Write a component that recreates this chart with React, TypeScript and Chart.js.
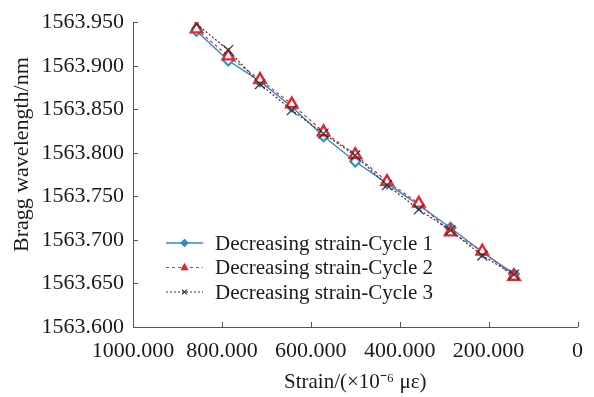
import React, { useEffect, useRef } from "react";
import { Chart, registerables } from "chart.js";

Chart.register(...registerables);

// ---- data ----
const strain = [857.1, 785.7, 714.3, 642.9, 571.4, 500.0, 428.6, 357.1, 285.7, 214.3, 142.9];
const cycle1 = [1563.940, 1563.906, 1563.882, 1563.853, 1563.819, 1563.790, 1563.765, 1563.740, 1563.714, 1563.686, 1563.661];
const cycle2 = [1563.942, 1563.911, 1563.884, 1563.856, 1563.824, 1563.798, 1563.767, 1563.742, 1563.709, 1563.687, 1563.658];
const cycle3 = [1563.948, 1563.918, 1563.879, 1563.849, 1563.822, 1563.797, 1563.763, 1563.735, 1563.711, 1563.682, 1563.660];
const seriesLabels = [
  "Decreasing strain-Cycle 1",
  "Decreasing strain-Cycle 2",
  "Decreasing strain-Cycle 3",
];
const xMin = 0;
const xMax = 1000;
const xStep = 200;
const yMin = 1563.6;
const yMax = 1563.95;
const yStep = 0.05;
const xTitle = "Strain/(\u00d710\u207b\u2076 \u03bc\u03b5)";
const yTitle = "Bragg wavelength/nm";

const FONT = "'Liberation Serif', 'Times New Roman', serif";
const TEXT = "#1a1a1a";
const AXIS = "#555555";
const BLUE = "#2f8cc6";
const RED = "#e5262d";
const BLACK = "#333333";

function drawMarker(ctx: CanvasRenderingContext2D, style: string, x: number, y: number, r: number, color: string) {
  ctx.save();
  ctx.strokeStyle = color;
  ctx.fillStyle = color;
  ctx.setLineDash([]);
  ctx.lineWidth = 1.2;
  ctx.beginPath();
  if (style === "rectRot") {
    ctx.moveTo(x, y - r);
    ctx.lineTo(x + r, y);
    ctx.lineTo(x, y + r);
    ctx.lineTo(x - r, y);
    ctx.closePath();
    ctx.fill();
    ctx.stroke();
  } else if (style === "triangle") {
    ctx.moveTo(x, y - r);
    ctx.lineTo(x + r * 0.9, y + r * 0.6);
    ctx.lineTo(x - r * 0.9, y + r * 0.6);
    ctx.closePath();
    ctx.fill();
    ctx.stroke();
  } else {
    ctx.moveTo(x - r * 0.7, y - r * 0.7);
    ctx.lineTo(x + r * 0.7, y + r * 0.7);
    ctx.moveTo(x + r * 0.7, y - r * 0.7);
    ctx.lineTo(x - r * 0.7, y + r * 0.7);
    ctx.stroke();
  }
  ctx.restore();
}

export default function App() {
  const ref = useRef<HTMLCanvasElement>(null);

  useEffect(() => {
    if (!ref.current) return;

    const inwardTicks = {
      id: "inwardTicks",
      afterDraw(chart: any) {
        const ctx = chart.ctx as CanvasRenderingContext2D;
        const { left, bottom } = chart.chartArea;
        const xs = chart.scales.x;
        const ys = chart.scales.y;
        ctx.save();
        ctx.strokeStyle = AXIS;
        ctx.lineWidth = 1;
        ctx.beginPath();
        xs.ticks.forEach((t: any) => {
          const px = Math.round(xs.getPixelForValue(t.value)) + 0.5;
          ctx.moveTo(px, bottom);
          ctx.lineTo(px, bottom - 5);
        });
        ys.ticks.forEach((t: any) => {
          const py = Math.round(ys.getPixelForValue(t.value)) + 0.5;
          ctx.moveTo(left, py);
          ctx.lineTo(left + 5, py);
        });
        ctx.stroke();
        ctx.restore();
      },
    };

    const yAxisTitle = {
      id: "yAxisTitle",
      afterDraw(chart: any) {
        const ctx = chart.ctx as CanvasRenderingContext2D;
        const { top, bottom } = chart.chartArea;
        ctx.save();
        ctx.translate(22, (top + bottom) / 2 - 20);
        ctx.rotate(-Math.PI / 2);
        ctx.fillStyle = TEXT;
        ctx.font = `22px ${FONT}`;
        ctx.textAlign = "center";
        ctx.textBaseline = "middle";
        ctx.fillText(yTitle, 0, 0);
        ctx.restore();
      },
    };

    const innerLegend = {
      id: "innerLegend",
      afterDraw(chart: any) {
        const ctx = chart.ctx as CanvasRenderingContext2D;
        const { left, bottom } = chart.chartArea;
        const x0 = left + 33;
        const x1 = left + 70;
        const tx = left + 82;
        const rowH = 24.5;
        const y0 = bottom - 84;
        chart.data.datasets.forEach((ds: any, i: number) => {
          const y = y0 + i * rowH;
          ctx.save();
          ctx.strokeStyle = ds.borderColor;
          ctx.lineWidth = ds.borderWidth;
          ctx.setLineDash(ds.borderDash || []);
          ctx.beginPath();
          ctx.moveTo(x0, y);
          ctx.lineTo(x1, y);
          ctx.stroke();
          ctx.restore();
          drawMarker(ctx, ds.pointStyle, (x0 + x1) / 2, y, 3.5, ds.borderColor);
          ctx.save();
          ctx.fillStyle = TEXT;
          ctx.font = `21px ${FONT}`;
          ctx.textBaseline = "middle";
          ctx.textAlign = "left";
          ctx.fillText(ds.label, tx, y + 1);
          ctx.restore();
        });
      },
    };

    const mk = (ys: number[]) => strain.map((x, i) => ({ x, y: ys[i] }));

    const chart = new Chart(ref.current, {
      type: "line",
      data: {
        datasets: [
          {
            label: seriesLabels[0],
            data: mk(cycle1),
            borderColor: BLUE,
            borderWidth: 1.4,
            pointStyle: "rectRot",
            pointRadius: 5,
            pointBorderWidth: 2,
            pointBackgroundColor: "#ffffff",
            pointBorderColor: BLUE,
            order: 2,
          },
          {
            label: seriesLabels[1],
            data: mk(cycle2),
            borderColor: RED,
            borderWidth: 1.2,
            borderDash: [3, 3],
            pointStyle: "triangle",
            pointRadius: 6.5,
            pointBorderWidth: 2.4,
            pointBackgroundColor: "#ffffff",
            pointBorderColor: RED,
            order: 1,
          },
          {
            label: seriesLabels[2],
            data: mk(cycle3),
            borderColor: BLACK,
            borderWidth: 1.2,
            borderDash: [2, 2],
            pointStyle: "crossRot",
            pointRadius: 7,
            pointBorderWidth: 1.2,
            pointBorderColor: BLACK,
            order: 0,
          },
        ] as any,
      },
      options: {
        animation: false,
        responsive: true,
        maintainAspectRatio: false,
        layout: { padding: { top: 15, right: 13, left: 0, bottom: 0 } },
        plugins: {
          legend: { display: false },
          tooltip: { enabled: false },
        },
        scales: {
          x: {
            type: "linear",
            reverse: true,
            min: xMin,
            max: xMax,
            ticks: {
              stepSize: xStep,
              color: TEXT,
              font: { family: FONT, size: 22 },
              padding: 11,
              maxRotation: 0,
              callback: (v: any) => (Number(v) === 0 ? "0" : Number(v).toFixed(3)),
            },
            grid: { drawOnChartArea: false, drawTicks: false },
            border: { display: true, color: AXIS, width: 1 },
            title: {
              display: true,
              text: xTitle,
              color: TEXT,
              font: { family: FONT, size: 21 },
              padding: { top: 0, bottom: 2 },
            },
            afterFit: (s: any) => {
              s.height = 70;
            },
          },
          y: {
            type: "linear",
            min: yMin,
            max: yMax,
            ticks: {
              stepSize: yStep,
              color: TEXT,
              font: { family: FONT, size: 22 },
              padding: 9,
              callback: (v: any) => Number(v).toFixed(3),
            },
            grid: { drawOnChartArea: false, drawTicks: false },
            border: { display: true, color: AXIS, width: 1 },
            title: { display: false },
            afterFit: (s: any) => {
              s.width = 133;
            },
          },
        },
      },
      plugins: [inwardTicks, innerLegend, yAxisTitle],
    });

    return () => chart.destroy();
  }, []);

  return (
    <div style={{ position: "absolute", left: 0, top: 0, width: 594, height: 397 }}>
      <canvas ref={ref} />
    </div>
  );
}
